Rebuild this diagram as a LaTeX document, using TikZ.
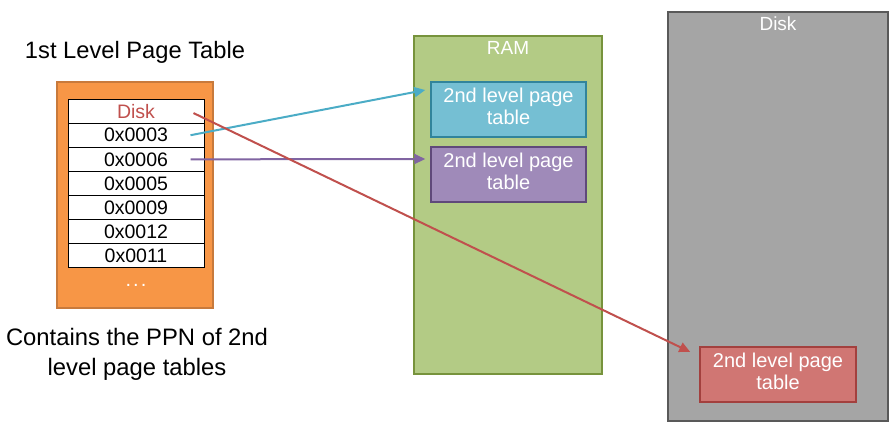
\documentclass[tikz,border=0pt]{standalone}
\usepackage{fontspec}
\setmainfont{Liberation Sans}
\usetikzlibrary{calc,arrows.meta}
\definecolor{orfill}{HTML}{F79646}
\definecolor{ordraw}{HTML}{C87A3C}
\definecolor{gfill}{HTML}{B3CB85}
\definecolor{gdraw}{HTML}{77933C}
\definecolor{bfill}{HTML}{75BFD3}
\definecolor{bdraw}{HTML}{31849B}
\definecolor{pfill}{HTML}{9F8AB9}
\definecolor{pdraw}{HTML}{5F497A}
\definecolor{rfill}{HTML}{D07673}
\definecolor{rdraw}{HTML}{A3403E}
\definecolor{dfill}{HTML}{A5A5A5}
\definecolor{ddraw}{HTML}{595959}
\definecolor{barrow}{HTML}{4BACC6}
\definecolor{parrow}{HTML}{8064A2}
\definecolor{rarrow}{HTML}{C0504D}
\tikzset{
  box/.style={rectangle, inner sep=0pt, line width=1.5pt},
  row/.style={box, draw=black, fill=white, line width=1pt, minimum width=136pt, minimum height=24.14pt, font=\fontsize{19.5}{19.5}\selectfont},
  ptbox/.style={box, minimum width=155pt, minimum height=55pt},
  ptlbl/.style={inner sep=0pt, text=white, align=center, font=\fontsize{20}{22.5}\selectfont, yshift=3pt},
  lbl/.style={text=white, font=\fontsize{19}{19}\selectfont},
  arr/.style={line width=2pt, -{Triangle[length=11pt,width=10pt]}},
}
\begin{document}
\begin{tikzpicture}[x=1pt,y=-1pt]
\useasboundingbox (0,0) rectangle (894,426);
% left
\node (title) at (135,52) {\fontsize{23.7}{23.7}\selectfont 1st Level Page Table};
\node[box, draw=ordraw, fill=orfill, minimum width=156pt, minimum height=226pt] (orange) at (135,195) {};
\node[row, text=rarrow] (r1) at (136,111.07) {Disk};
\node[row] (r2) at (136,135.21) {0x0003};
\node[row] (r3) at (136,159.35) {0x0006};
\node[row] (r4) at (136,183.49) {0x0005};
\node[row] (r5) at (136,207.63) {0x0009};
\node[row] (r6) at (136,231.77) {0x0012};
\node[row] (r7) at (136,255.91) {0x0011};
\node[text=white, font=\fontsize{20}{20}\selectfont] (dots) at (136,285) {.\kern2pt.\kern2pt.};
\node[align=center, font=\fontsize{23.8}{30}\selectfont] (cap) at (137,354) {Contains the PPN of 2nd\\level page tables};
% RAM
\node[box, draw=gdraw, fill=gfill, minimum width=188pt, minimum height=338pt] (ram) at (508,205) {};
\node[lbl] (ramlbl) at (508,48) {RAM};
\node[ptbox, draw=bdraw, fill=bfill, label={[ptlbl]center:2nd level page\\table}] (blue) at (508.5,109.5) {};
\node[ptbox, draw=pdraw, fill=pfill, label={[ptlbl]center:2nd level page\\table}] (purple) at (508.5,174.5) {};
% Disk
\node[box, draw=ddraw, fill=dfill, minimum width=220pt, minimum height=409pt] (disk) at (778,216.5) {};
\node[lbl] (disklbl) at (778,24) {Disk};
\node[ptbox, draw=rdraw, fill=rfill, minimum width=156pt, label={[ptlbl]center:2nd level page\\table}] (red) at (778,374.5) {};
% connectors
\coordinate (s1) at ($(r1.east)+(-11,2)$);
\coordinate (s2) at ($(r2.east)+(-14,0)$);
\coordinate (s3) at ($(r3.east)+(-14,0)$);
\coordinate (e1) at ($(blue.west)+(-5,-19.5)$);
\coordinate (e2) at ($(purple.west)+(-5,-15.5)$);
\coordinate (e3) at ($(red.west)+(-9,-22.5)$);
\draw[arr, draw=barrow, fill=barrow] (s2) -- (e1);
\draw[arr, draw=parrow, fill=parrow] (s3) -- (e2);
\draw[arr, draw=rarrow, fill=rarrow] (s1) -- (e3);
\end{tikzpicture}
\end{document}
